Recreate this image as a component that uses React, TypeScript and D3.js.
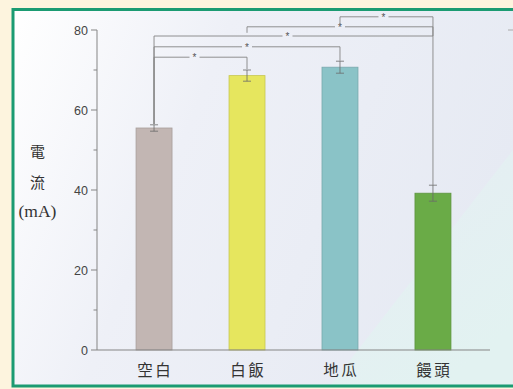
import React from "react";
import * as d3 from "d3";

const categories = ["空白", "白飯", "地瓜", "饅頭"];
const values = [55.5, 68.6, 70.7, 39.2];
const errors = [0.8, 1.4, 1.5, 2.0];
const barColors = ["#c2b6b3", "#e6e65e", "#8ac3c7", "#6aab47"];
const yTicks = [0, 20, 40, 60, 80];
const yMinorTicks = [10, 30, 50, 70];
// significance brackets: [fromIndex, toIndex, bracket level (mA), left leg end (mA), right leg end (mA), star offset]
const bracketFrom = [0, 0, 0, 1, 2];
const bracketTo = [1, 2, 3, 3, 3];
const bracketLevel = [73.2, 75.8, 78.5, 80.8, 83.3];
const bracketLeftEnd = [56.5, 56.5, 56.5, 79.3, 81.5];
const bracketRightEnd = [70.2, 72.3, 41.2, 78.5, 78.5];
const starShift = [-6, 0, -6, 0, -3];

export default function App() {
  const W = 513, H = 389;
  const x = d3.scaleBand<string>().domain(categories).range([97, 490]).paddingInner(0.613).paddingOuter(0.42);
  const y = d3.scaleLinear().domain([0, 80]).range([350, 30]);
  const cx = (i: number) => (x(categories[i]) as number) + x.bandwidth() / 2;
  const gray = "#858585";
  return (
    <svg width={W} height={H} style={{ position: "absolute", left: 0, top: 0 }}>
      <defs>
        <linearGradient id="bg" x1="0" y1="0" x2="1" y2="0.3">
          <stop offset="0" stopColor="#ffffff" />
          <stop offset="0.4" stopColor="#eef0f7" />
          <stop offset="1" stopColor="#e6eaf3" />
        </linearGradient>
        <linearGradient id="bg2" x1="0" y1="0" x2="0.6" y2="1">
          <stop offset="0" stopColor="#e4f2f2" stopOpacity="0.3" />
          <stop offset="1" stopColor="#e2f2f1" stopOpacity="1" />
        </linearGradient>
      </defs>
      <rect x={0} y={0} width={W} height={H} fill="#fdf4de" />
      <rect x={13} y={9.5} width={W} height={376.5} fill="url(#bg)" />
      <polygon points="513,150 513,386 330,386" fill="url(#bg2)" />
      <rect x={13} y={9.5} width={W} height={376.5} fill="none" stroke="#1b9b72" strokeWidth={3} />

      {/* bars */}
      {values.map((v, i) => (
        <rect key={"b" + i} x={x(categories[i])} y={y(v)} width={x.bandwidth()} height={y(0) - y(v)}
          fill={barColors[i]} stroke={d3.color(barColors[i])!.darker(0.4).toString()} strokeWidth={0.8} />
      ))}
      {/* error bars */}
      {values.map((v, i) => (
        <g key={"e" + i} stroke="#6a6a6a" strokeWidth={0.8}>
          <line x1={cx(i)} x2={cx(i)} y1={y(v + errors[i])} y2={y(v - errors[i])} />
          <line x1={cx(i) - 4} x2={cx(i) + 4} y1={y(v + errors[i])} y2={y(v + errors[i])} />
          <line x1={cx(i) - 4} x2={cx(i) + 4} y1={y(v - errors[i])} y2={y(v - errors[i])} />
        </g>
      ))}

      {/* brackets */}
      {bracketFrom.map((f, k) => {
        const x1 = cx(f), x2 = cx(bracketTo[k]);
        const yl = y(bracketLevel[k]);
        const sx = (x1 + x2) / 2 + starShift[k];
        return (
          <g key={"k" + k} stroke={gray} strokeWidth={0.9} fill="none">
            <line x1={x1} x2={sx - 5} y1={yl} y2={yl} />
            <line x1={sx + 5} x2={x2} y1={yl} y2={yl} />
            <line x1={x1} x2={x1} y1={yl} y2={y(bracketLeftEnd[k])} />
            <line x1={x2} x2={x2} y1={yl} y2={y(bracketRightEnd[k])} />
            <text x={sx} y={yl + 4} textAnchor="middle" fontSize={10} fill="#555" stroke="none"
              fontFamily="Liberation Sans, Arial, sans-serif">*</text>
          </g>
        );
      })}

      {/* y axis */}
      <line x1={97} x2={97} y1={y(80)} y2={y(0)} stroke={gray} strokeWidth={1} />
      {yTicks.map((t) => (
        <g key={"t" + t}>
          <line x1={91} x2={97} y1={y(t)} y2={y(t)} stroke={gray} strokeWidth={1} />
          <text x={88} y={y(t) + 4.5} textAnchor="end" fontSize={12.5} fill="#444"
            fontFamily="Liberation Sans, Arial, sans-serif">{t}</text>
        </g>
      ))}
      {yMinorTicks.map((t) => (
        <line key={"m" + t} x1={93.5} x2={97} y1={y(t)} y2={y(t)} stroke={gray} strokeWidth={1} />
      ))}
      {/* x axis */}
      <line x1={97} x2={490} y1={y(0)} y2={y(0)} stroke={gray} strokeWidth={1} />
      <line x1={508} x2={513} y1={y(80)} y2={y(80)} stroke="#aaa" strokeWidth={1} />
      {categories.map((c, i) => (
        <text key={"c" + i} x={cx(i)} y={376} textAnchor="middle" fontSize={15.5} fill="#333" letterSpacing={2.5}
          fontFamily="Noto Sans CJK TC, sans-serif" dx={1.2}>{c}</text>
      ))}

      {/* y label */}
      <text x={37.5} y={157} textAnchor="middle" fontSize={15} fill="#333" fontFamily="Noto Sans CJK TC, sans-serif">電</text>
      <text x={37.5} y={188} textAnchor="middle" fontSize={15} fill="#333" fontFamily="Noto Sans CJK TC, sans-serif">流</text>
      <text x={37.5} y={217} textAnchor="middle" fontSize={17.5} fill="#333" fontFamily="Liberation Serif, serif">(mA)</text>
    </svg>
  );
}
